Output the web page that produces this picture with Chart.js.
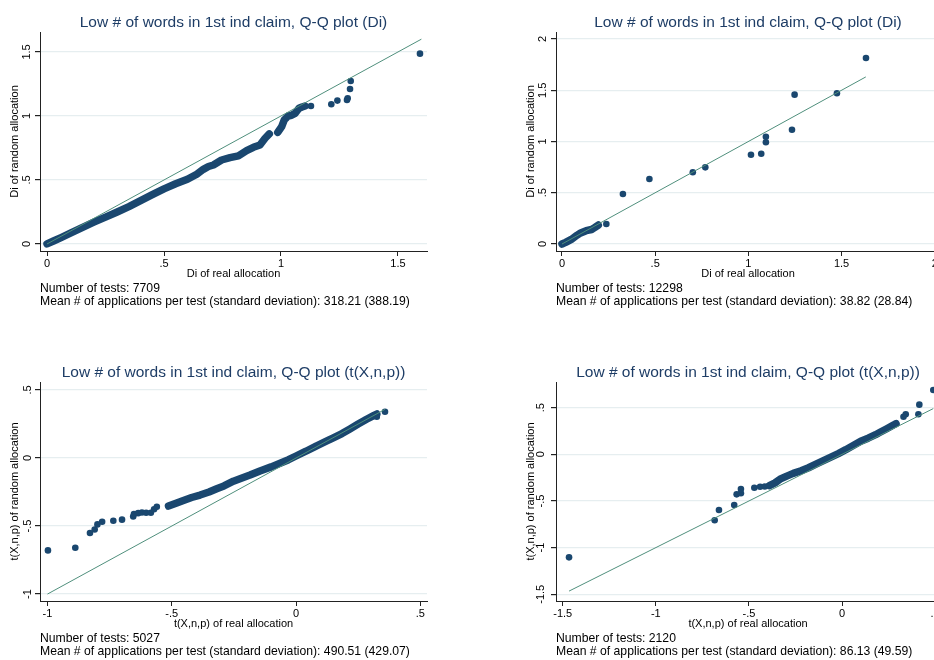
<!DOCTYPE html>
<html>
<head>
<meta charset="utf-8">
<script src="https://cdn.jsdelivr.net/npm/chart.js@4.4.0/dist/chart.umd.min.js"></script>
<style>
html, body { margin: 0; padding: 0; background: #fff; overflow: hidden; width: 934px; height: 660px; position: relative; }
canvas { position: absolute; }
</style>
</head>
<body>
<canvas id="c1" width="470" height="330" style="left:0px;top:0px"></canvas>
<canvas id="c2" width="480" height="330" style="left:470px;top:0px"></canvas>
<canvas id="c3" width="470" height="310" style="left:0px;top:350px"></canvas>
<canvas id="c4" width="480" height="310" style="left:470px;top:350px"></canvas>
<script>
// values: [real allocation, random allocation]
const titleDi = 'Low # of words in 1st ind claim, Q-Q plot (Di)';
const titleT = 'Low # of words in 1st ind claim, Q-Q plot (t(X,n,p))';

// top left
const p1Band = [
    [[0, 0], [0.03, 0.025], [0.06, 0.05], [0.1, 0.085], [0.15, 0.128], [0.2, 0.17], [0.25, 0.21],
     [0.3, 0.25], [0.35, 0.292], [0.4, 0.338], [0.45, 0.385], [0.5, 0.43], [0.55, 0.47], [0.6, 0.505],
     [0.64, 0.545], [0.668, 0.583], [0.69, 0.605], [0.711, 0.617], [0.746, 0.656], [0.782, 0.674],
     [0.818, 0.688], [0.853, 0.729], [0.882, 0.755], [0.91, 0.773], [0.932, 0.826], [0.95, 0.86]],
    [[0.986, 0.872], [1.003, 0.917], [1.014, 0.969], [1.031, 1.0], [1.045, 1.005], [1.06, 1.02],
     [1.077, 1.06], [1.09, 1.07], [1.103, 1.078]]
];
const p1Pts = [[1.128, 1.078], [1.215, 1.091], [1.241, 1.12], [1.282, 1.125], [1.285, 1.138],
    [1.295, 1.211], [1.298, 1.273], [1.594, 1.487]];
const p1Ref = [[0, 0], [1.6, 1.6]];
const p1XTicks = [0, 0.5, 1, 1.5];
const p1YTicks = [0, 0.5, 1, 1.5];
const p1Notes = ['Number of tests: 7709', 'Mean # of applications per test (standard deviation): 318.21 (388.19)'];

// top right
const p2Band = [
    [[0, 0], [0.02, 0.016], [0.05, 0.045], [0.08, 0.085], [0.1, 0.108], [0.13, 0.13], [0.159, 0.142],
     [0.175, 0.16], [0.195, 0.185]]
];
const p2Pts = [[0.238, 0.196], [0.327, 0.488], [0.469, 0.634], [0.702, 0.7], [0.769, 0.748],
    [1.014, 0.871], [1.069, 0.881], [1.094, 0.992], [1.094, 1.047], [1.234, 1.115], [1.248, 1.457],
    [1.475, 1.47], [1.631, 1.815]];
const p2Ref = [[0, 0], [1.63, 1.63]];
const p2XTicks = [0, 0.5, 1, 1.5, 2];
const p2YTicks = [0, 0.5, 1, 1.5, 2];
const p2Notes = ['Number of tests: 12298', 'Mean # of applications per test (standard deviation): 38.82 (28.84)'];

// bottom left
const p3Band = [
    [[-0.513, -0.353], [-0.48, -0.33], [-0.453, -0.312], [-0.42, -0.29], [-0.386, -0.272], [-0.35, -0.25],
     [-0.319, -0.226], [-0.29, -0.205], [-0.252, -0.17], [-0.22, -0.148], [-0.185, -0.125],
     [-0.145, -0.095], [-0.1, -0.065], [-0.064, -0.038], [-0.03, -0.012], [0, 0.015], [0.04, 0.05],
     [0.083, 0.09], [0.12, 0.122], [0.15, 0.148], [0.185, 0.18], [0.217, 0.214], [0.25, 0.25],
     [0.284, 0.285], [0.31, 0.31], [0.325, 0.324]]
];
const p3Pts = [[-0.998, -0.679], [-0.888, -0.659], [-0.829, -0.551], [-0.81, -0.525], [-0.799, -0.488],
    [-0.78, -0.468], [-0.735, -0.461], [-0.7, -0.453], [-0.655, -0.43], [-0.652, -0.412], [-0.635, -0.405],
    [-0.62, -0.4], [-0.603, -0.402], [-0.584, -0.402], [-0.571, -0.377], [-0.56, -0.358],
    [0.325, 0.304], [0.358, 0.34]];
const p3Ref = [[-1, -1], [0.358, 0.358]];
const p3XTicks = [-1, -0.5, 0, 0.5];
const p3YTicks = [-1, -0.5, 0, 0.5];
const p3Notes = ['Number of tests: 5027', 'Mean # of applications per test (standard deviation): 490.51 (429.07)'];

// bottom right
const p4Band = [
    [[-0.39, -0.336], [-0.36, -0.306], [-0.333, -0.266], [-0.3, -0.236], [-0.262, -0.204], [-0.22, -0.176],
     [-0.18, -0.144], [-0.14, -0.106], [-0.1, -0.068], [-0.06, -0.03], [-0.02, 0.008], [0.02, 0.05],
     [0.06, 0.095], [0.1, 0.14], [0.14, 0.173], [0.18, 0.21], [0.204, 0.236], [0.24, 0.274],
     [0.276, 0.314], [0.29, 0.328]]
];
const p4Pts = [[-1.466, -1.104], [-0.684, -0.707], [-0.661, -0.597], [-0.579, -0.543], [-0.566, -0.429],
    [-0.543, -0.418], [-0.543, -0.372], [-0.471, -0.358], [-0.44, -0.347], [-0.415, -0.345],
    [0.33, 0.403], [0.342, 0.429], [0.41, 0.429], [0.415, 0.532], [0.49, 0.689]];
const p4Ref = [[-1.466, -1.466], [0.49, 0.49]];
const p4XTicks = [-1.5, -1, -0.5, 0, 0.5];
const p4YTicks = [-1.5, -1, -0.5, 0, 0.5];
const p4Notes = ['Number of tests: 2120', 'Mean # of applications per test (standard deviation): 86.13 (49.59)'];

const navy = '#1a476f';
const refColor = '#4f8f7c';
const titleColor = '#1e3d66';
const gridColor = '#e6eef0';
const axisColor = '#222';

Chart.defaults.font.family = "'Liberation Sans', Arial, sans-serif";
Chart.defaults.color = '#000';

function fmt(v) {
    let s = String(Math.round(v * 100) / 100);
    return s.replace(/^(-?)0\./, '$1.');
}

function xy(list) {
    return list.map(p => ({x: p[0], y: p[1]}));
}

function qq(id, cfg) {
    const datasets = [{
        data: xy(cfg.ref),
        showLine: true,
        borderColor: refColor,
        borderWidth: 1,
        pointRadius: 0
    }];
    cfg.band.forEach(seg => datasets.push({
        data: xy(seg),
        showLine: true,
        borderColor: navy,
        borderWidth: 7.5,
        borderCapStyle: 'round',
        borderJoinStyle: 'round',
        pointRadius: 0
    }));
    datasets.push({
        data: xy(cfg.pts),
        backgroundColor: navy,
        borderColor: navy,
        pointRadius: 3.3,
        borderWidth: 0
    });

    new Chart(document.getElementById(id), {
        type: 'scatter',
        data: {datasets: datasets},
        options: {
            responsive: false,
            animation: false,
            layout: {padding: {left: cfg.left, right: cfg.right, top: 8, bottom: cfg.bottom}},
            plugins: {
                legend: {display: false},
                tooltip: {enabled: false},
                title: {
                    display: true,
                    text: cfg.title,
                    fullSize: false,
                    color: titleColor,
                    font: {size: 15.5, weight: 'normal'},
                    padding: {top: 5, bottom: 0.4}
                },
                subtitle: {
                    display: true,
                    text: cfg.notes,
                    position: 'bottom',
                    align: 'start',
                    fullSize: false,
                    color: '#000',
                    font: {size: 12.2, lineHeight: '13px'},
                    padding: {top: 1.5, bottom: 0}
                }
            },
            scales: {
                x: {
                    type: 'linear',
                    min: cfg.xMin,
                    max: cfg.xMax,
                    afterBuildTicks: s => { s.ticks = cfg.xTicks.map(v => ({value: v})); },
                    afterFit: s => { s.height = 30; },
                    grid: {drawOnChartArea: false, tickColor: axisColor, tickLength: 5},
                    border: {display: true, color: axisColor},
                    ticks: {callback: fmt, maxRotation: 0, autoSkip: false, padding: 1, font: {size: 11}},
                    title: {display: true, text: cfg.xTitle, font: {size: 11}, padding: {top: 0, bottom: 0}}
                },
                y: {
                    type: 'linear',
                    min: cfg.yMin,
                    max: cfg.yMax,
                    afterBuildTicks: s => { s.ticks = cfg.yTicks.map(v => ({value: v})); },
                    afterFit: s => { s.width = 32; },
                    grid: {color: gridColor, lineWidth: 1.2, tickColor: axisColor, tickLength: 5},
                    border: {display: true, color: axisColor},
                    ticks: {callback: fmt, minRotation: 90, maxRotation: 90, crossAlign: 'center',
                        autoSkip: false, padding: 0.5, font: {size: 11}},
                    title: {display: true, text: cfg.yTitle, font: {size: 11}, padding: {top: 0, bottom: 0}}
                }
            }
        }
    });
}

qq('c1', {
    title: titleDi, notes: p1Notes, band: p1Band, pts: p1Pts, ref: p1Ref,
    xTicks: p1XTicks, yTicks: p1YTicks,
    xMin: -0.03, xMax: 1.624, yMin: -0.055, yMax: 1.656,
    xTitle: 'Di of real allocation', yTitle: 'Di of random allocation',
    left: 8, right: 43, bottom: 21.5
});
qq('c2', {
    title: titleDi, notes: p2Notes, band: p2Band, pts: p2Pts, ref: p2Ref,
    xTicks: p2XTicks, yTicks: p2YTicks,
    xMin: -0.032, xMax: 2.028, yMin: -0.068, yMax: 2.068,
    xTitle: 'Di of real allocation', yTitle: 'Di of random allocation',
    left: 54, right: 10, bottom: 21.5
});
qq('c3', {
    title: titleT, notes: p3Notes, band: p3Band, pts: p3Pts, ref: p3Ref,
    xTicks: p3XTicks, yTicks: p3YTicks,
    xMin: -1.03, xMax: 0.527, yMin: -1.051, yMax: 0.559,
    xTitle: 't(X,n,p) of real allocation', yTitle: 't(X,n,p) of random allocation',
    left: 8, right: 43, bottom: 1.5
});
qq('c4', {
    title: titleT, notes: p4Notes, band: p4Band, pts: p4Pts, ref: p4Ref,
    xTicks: p4XTicks, yTicks: p4YTicks,
    xMin: -1.536, xMax: 0.526, yMin: -1.572, yMax: 0.775,
    xTitle: 't(X,n,p) of real allocation', yTitle: 't(X,n,p) of random allocation',
    left: 54, right: 10, bottom: 1.5
});
</script>
</body>
</html>
